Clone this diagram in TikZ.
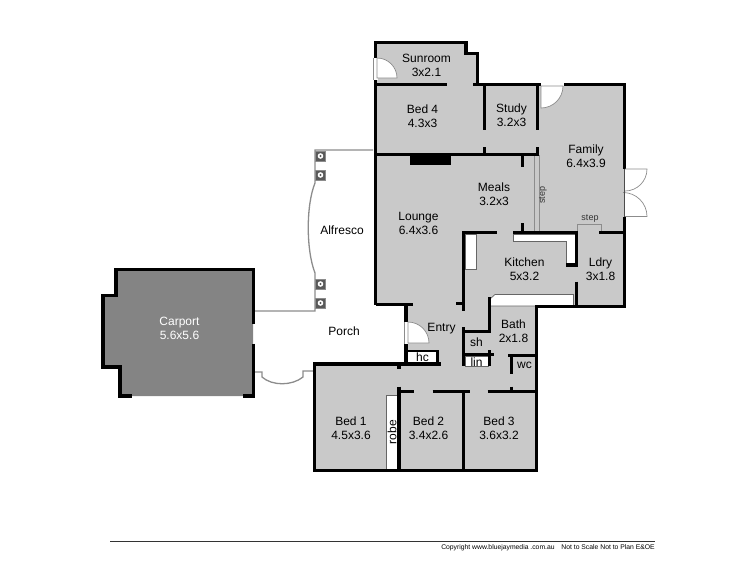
\documentclass[tikz,border=0pt]{standalone}
\usepackage{fontspec}
\setmainfont{Liberation Sans}
\usepackage{xcolor}
\definecolor{floorgray}{HTML}{C9C9C9}
\definecolor{carportgray}{HTML}{848484}
\definecolor{thingray}{HTML}{8C8C8C}

\begin{document}
\begin{tikzpicture}[
  x=1pt, y=-1pt,
  every node/.style={align=center, inner sep=0pt, font=\fontsize{12}{14}\selectfont},
  wall/.style={line width=3.5pt, black},
  thinwall/.style={line width=2pt, black},
  outline/.style={line width=1.3pt, thingray},
  fitting/.style={fill=white, draw=black!60, line width=0.7pt},
  doorleaf/.style={fill=white, draw=thingray, line width=0.7pt},
  post/.style={fill=black!65, draw=black!45, line width=0.6pt, minimum size=10pt},
  small/.style={font=\fontsize{9}{10}\selectfont, text=black!80}
]
\useasboundingbox (0,0) rectangle (750,563);

% floors
\fill[floorgray] (375,42) -- (466,42) -- (466,53) -- (478,53) -- (478,84) -- (624,84)
  -- (624,306) -- (536,306) -- (536,470) -- (314,470) -- (314,364) -- (406,364) -- (406,304) -- (375,304) -- cycle;
\fill[carportgray] (116,269) -- (253,269) -- (253,396) -- (120,396) -- (120,367) -- (103,367) -- (103,295) -- (116,295) -- cycle;

% alfresco and porch
\draw[outline] (255,311) -- (315,311) -- (315,273) .. controls (306,250) and (306,205) .. (315,183) -- (315,150) -- (373,150);
\draw[outline] (255,372) -- (262,372) -- (262,377) .. controls (272,386) and (292,386) .. (303,377) -- (303,371) -- (313,371);
\foreach \py in {156,175,284,303} {
  \node[post] at (320.5,\py) {};
  \fill[white] (320.5,\py) circle (2.8pt);
  \fill[black!65] (320.5,\py) circle (1.2pt);
}

% step strips
\draw[line width=0.8pt, thingray] (534,155) -- (534,231) (539.5,155) -- (539.5,231);
\draw[line width=0.8pt, thingray] (577.5,231) -- (577.5,224) -- (601.5,224) -- (601.5,231);

% kitchen and other fittings
\draw[fitting] (465,234) rectangle (476.5,269.5);
\draw[fitting] (513.5,234) -- (575,234) -- (575,264.5) -- (566.5,264.5) -- (566.5,241.5) -- (513.5,241.5) -- cycle;
\draw[fitting] (489.5,306) -- (489.5,299.5) -- (495,294.5) -- (573.5,294.5) -- (573.5,306) -- cycle;
\draw[fitting] (386,395) rectangle (397.5,470);
\fill[white] (408,350) rectangle (437,363);
\draw[fitting] (465.5,356.5) rectangle (488,366);

% outer walls
\draw[wall] (375.5,304.5) -- (375.5,42.5) -- (466,42.5) -- (466,53.5) -- (477.5,53.5) -- (477.5,84);
\draw[wall] (473,84.5) -- (541,84.5);
\draw[wall] (563.5,84.5) -- (624.5,84.5) -- (624.5,169);
\draw[wall] (624.5,216.5) -- (624.5,306.5) -- (536.5,306.5) -- (536.5,470.5) -- (314.5,470.5) -- (314.5,364) -- (441,364);
\draw[wall] (375.5,304.5) -- (413,304.5);
\draw[wall] (406,304.5) -- (406,322);
\draw[wall] (406,343.5) -- (406,364);

% inner walls, top rooms
\draw[wall] (375.5,84.5) -- (447,84.5);
\draw[wall] (484.5,84) -- (484.5,130) (484.5,147) -- (484.5,155);
\draw[wall] (537.5,84) -- (537.5,130) (537.5,147) -- (537.5,156);
\draw[wall] (375.5,154.5) -- (539,154.5);
\draw[wall] (522.5,155) -- (522.5,167);
\fill[black] (410,154) rectangle (450.5,164.5);

% kitchen walls
\draw[wall] (463.5,310.5) -- (463.5,232.5) -- (497,232.5);
\draw[wall] (513,232.5) -- (578,232.5);
\draw[wall] (599,232.5) -- (624.5,232.5);
\draw[wall] (522.5,223) -- (522.5,232);
\draw[wall] (576.5,232.5) -- (576.5,265) -- (566,265);
\draw[wall] (576.5,281.5) -- (576.5,306.5);
\draw[wall] (456,303.5) -- (463.5,303.5);

% bath and entry
\draw[wall] (489.5,297) -- (489.5,331.5) -- (462,331.5);
\draw[wall] (463.5,327) -- (463.5,366);
\draw[wall] (462,354.5) -- (493.5,354.5);
\draw[wall] (489.5,350) -- (489.5,366);
\draw[wall] (508,355.5) -- (536.5,355.5);
\draw[wall] (511.5,355.5) -- (511.5,374);
\draw[thinwall] (406,350.5) -- (439,350.5);
\draw[wall] (437.5,350) -- (437.5,364);
\draw[wall] (399,364) -- (399,369);

% bedrooms
\draw[wall] (399,386.5) -- (399,470) (399,391.5) -- (413.5,391.5);
\draw[wall] (432.5,391.5) -- (470,391.5);
\draw[wall] (487.5,391.5) -- (536.5,391.5);
\draw[wall] (511.5,386.5) -- (511.5,391);
\draw[wall] (463.5,391.5) -- (463.5,470);

% carport
\draw[wall] (253.5,323.5) -- (253.5,269.5) -- (116,269.5) -- (116,295.5) -- (103,295.5) -- (103,367) -- (120,367) -- (120,396) -- (132,396);
\draw[wall] (253.5,343.5) -- (253.5,396) -- (243,396);

% doors
\fill[white] (373.5,58) rectangle (377.5,80);
\draw[line width=0.7pt, thingray] (373.5,58) -- (373.5,80);
\draw[doorleaf] (377,58) arc[start angle=-90, end angle=0, radius=20] -- (377,78) -- cycle;
\fill[white] (541,83) rectangle (563.5,86);
\draw[doorleaf] (563,86) arc[start angle=0, end angle=90, radius=22] -- (541,86) -- cycle;
\fill[white] (404.5,322) rectangle (407.5,343.5);
\draw[doorleaf] (408,322) arc[start angle=-90, end angle=0, radius=21] -- (408,343) -- cycle;
\draw[line width=0.7pt, thingray] (404.5,322) -- (404.5,343.5);
\draw[line width=0.7pt, thingray] (625,169) -- (647,169) arc[start angle=0, end angle=90, radius=22]
  (625,216.5) -- (647,216.5) arc[start angle=0, end angle=-90, radius=24];
\draw[line width=1pt, black!70] (624.5,169) -- (624.5,216.5);

% labels
\node (sunroom) at (426.5,65) {Sunroom\\3x2.1};
\node (bedfour) at (422.5,116.5) {Bed 4\\4.3x3};
\node (study) at (511.5,115) {Study\\3.2x3};
\node (family) at (586,156) {Family\\6.4x3.9};
\node (meals) at (494,194) {Meals\\3.2x3};
\node (lounge) at (418.5,223.5) {Lounge\\6.4x3.6};
\node (kitchen) at (524.5,269) {Kitchen\\5x3.2};
\node (ldry) at (600.5,269.5) {Ldry\\3x1.8};
\node (entry) at (441.5,328.5) {Entry};
\node (bath) at (513.5,331.5) {Bath\\2x1.8};
\node (sh) at (476.5,342) {sh};
\node (lin) at (476.5,362) {lin};
\node (hc) at (422.5,357.5) {hc};
\node (wc) at (524.5,365.5) {wc};
\node (bedone) at (351,428.5) {Bed 1\\4.5x3.6};
\node (bedtwo) at (428.5,428.5) {Bed 2\\3.4x2.6};
\node (bedthree) at (499,428.5) {Bed 3\\3.6x3.2};
\node[rotate=90] (robe) at (392,432) {robe};
\node[text=white] (carport) at (179.5,328.5) {Carport\\5.6x5.6};
\node (alfresco) at (342,230) {Alfresco};
\node (porch) at (344,331.5) {Porch};
\node[small, rotate=90] (stepstrip) at (543,195) {step};
\node[small] (stepldry) at (590,219) {step};

% footer
\draw[line width=0.8pt, black!80] (110,541.5) -- (655,541.5);
\node[anchor=east, font=\fontsize{6.8}{8}\selectfont] (copyright) at (655,548) {Copyright www.bluejaymedia .com.au\quad Not to Scale Not to Plan E\&OE};
\end{tikzpicture}
\end{document}
